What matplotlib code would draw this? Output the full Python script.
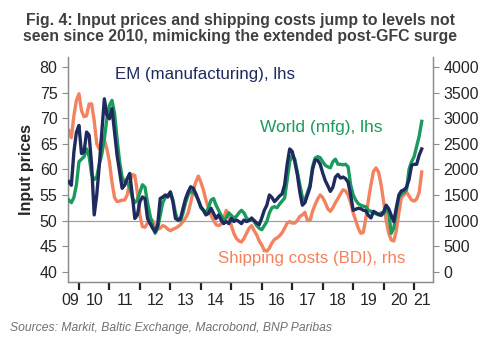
import numpy as np
import matplotlib
matplotlib.use("Agg")
import matplotlib.pyplot as plt

plt.rcParams['font.family'] = ['Liberation Sans', 'DejaVu Sans']

# monthly data, Sep 2009 .. Apr 2021
start_year = 2009
start_month = 9

# EM manufacturing input prices (lhs)
em = [57.6, 56.9, 63.4, 67.3,
      68.6, 63.1, 63.4, 67.3, 66.7, 60.8, 51.1, 55.0, 60.8, 67.3, 73.8, 70.6,
      69.9, 71.9, 67.3, 62.8, 59.5, 56.3, 56.9, 58.2, 59.2, 55.0, 50.4, 51.1,
      53.7, 54.6, 54.3, 50.4, 49.4, 48.5, 47.8, 49.1, 54.3, 54.6, 55.0, 54.6,
      55.6, 53.7, 50.4, 50.1, 50.4, 52.4, 54.3, 55.6, 56.6, 56.3, 55.3, 54.0,
      52.7, 52.0, 51.1, 51.4, 52.4, 51.4, 50.4, 51.1, 50.1, 49.4, 49.8, 49.4,
      50.4, 49.8, 50.1, 49.8, 49.4, 50.1, 49.8, 50.0, 50.5, 50.0, 49.5, 49.2,
      50.5, 52.0, 53.0, 55.0, 54.5, 53.7, 54.2, 54.8, 55.2, 57.0, 61.0, 64.0,
      63.5, 61.5, 59.0, 55.5, 53.0, 53.5, 55.0, 56.5, 60.0, 61.8, 61.8, 61.0,
      59.3, 57.8, 56.8, 55.7, 56.5, 58.5, 59.0, 58.3, 58.5, 58.2, 57.5, 55.0,
      52.0, 52.2, 52.4, 52.3, 52.0, 51.9, 51.0, 50.5, 51.8, 51.5, 51.2, 51.0,
      51.7, 53.0, 52.3, 51.0, 49.8, 52.5, 55.0, 55.8, 56.0, 56.5, 58.0, 60.8,
      61.0, 61.0, 62.8, 64.0]

# World manufacturing input prices (lhs)
world = [54.0, 53.5, 54.5, 57.0,
         61.5, 62.0, 62.5, 64.0, 62.5, 59.0, 58.0, 58.5, 61.0, 63.0, 66.0, 70.0,
         72.5, 73.5, 71.0, 66.0, 61.5, 58.5, 57.5, 57.5, 56.5, 54.5, 53.5, 54.0,
         55.5, 57.0, 56.5, 53.5, 51.0, 49.0, 47.5, 48.5, 51.0, 53.5, 54.5, 55.0,
         55.5, 54.0, 51.5, 50.0, 50.0, 51.5, 53.5, 55.0, 55.8, 55.5, 55.0, 54.0,
         52.5, 52.0, 51.5, 52.5, 54.0, 54.3, 53.0, 52.0, 51.0, 50.0, 50.5, 51.5,
         51.0, 50.5, 50.8, 51.5, 52.0, 51.5, 50.5, 50.0, 50.2, 49.8, 49.0, 48.5,
         48.2, 49.0, 49.8, 51.5, 52.5, 52.7, 52.5, 53.2, 53.8, 54.4, 58.0, 61.5,
         62.8, 62.0, 59.5, 57.0, 54.5, 54.0, 55.5, 57.0, 60.5, 62.2, 62.5, 62.3,
         61.5, 60.8, 60.5, 60.3, 61.5, 62.0, 61.0, 61.0, 60.9, 61.0, 60.5, 57.0,
         55.0, 54.0, 53.3, 53.0, 52.8, 52.7, 52.0, 51.8, 51.5, 51.3, 51.1, 51.5,
         51.3, 52.2, 51.5, 47.5, 48.5, 52.0, 54.5, 55.2, 55.5, 56.0, 60.0, 61.5,
         62.5, 64.5, 66.5, 69.4]

# Baltic Dry Index (rhs)
bdi = [2760, 2620, 3050, 3350,
       3480, 3150, 3030, 3050, 3280, 3280, 2950, 2500, 2400, 2600, 2580, 2400,
       2150, 1750, 1450, 1370, 1380, 1400, 1400, 1500, 1750, 1900, 1880, 1550,
       1100, 880, 870, 950, 1030, 1000, 900, 830, 850, 900, 880, 830,
       800, 830, 850, 880, 920, 980, 1050, 1150, 1350, 1580, 1750, 1870,
       1750, 1600, 1400, 1250, 1100, 1000, 920, 900, 930, 1050, 1200, 1100,
       900, 750, 650, 600, 580, 650, 750, 850, 900, 800, 720, 600,
       520, 420, 400, 460, 560, 630, 660, 700, 760, 850, 950, 980,
       950, 950, 1000, 1080, 1110, 1160, 1000, 1000, 1180, 1310, 1420, 1500,
       1450, 1350, 1230, 1180, 1250, 1350, 1430, 1520, 1600, 1580, 1500, 1350,
       1150, 1000, 850, 750, 770, 1050, 1400, 1700, 1960, 2030, 1950, 1700,
       1370, 1000, 750, 620, 600, 800, 1150, 1450, 1500, 1560, 1480, 1400,
       1380, 1420, 1550, 1950]

n = len(em)
months = np.arange(n) + (start_month - 1)
t = start_year + months / 12.0

navy = "#1f2a5e"
green = "#1b9a5e"
orange = "#f3825f"
grey = "#8c8c8c"

fig = plt.figure(figsize=(5.0, 3.45), dpi=100)
ax = fig.add_axes([0.136, 0.183, 0.730, 0.652])
ax2 = ax.twinx()

ax.axhline(50, color="#a0a0a0", lw=0.9, zorder=1)
ax2.plot(t, bdi, color=orange, lw=2.4, zorder=2)
ax.plot(t, world, color=green, lw=2.4, zorder=3)
ax.plot(t, em, color=navy, lw=2.4, zorder=4)

ax.set_zorder(ax2.get_zorder() + 1)
ax.patch.set_visible(False)

ax.set_xlim(2009.64, 2021.62)
ax.set_ylim(38, 82)
ax2.set_ylim(-200, 4200)
ax.set_yticks(np.arange(40, 81, 5))
ax2.set_yticks(np.arange(0, 4001, 500))

# year boundaries as ticks, labels centred in each year
years = np.arange(2010, 2022)
ax.set_xticks(years)
ax.set_xticklabels([])
label_pos = [2009.72] + [y + 0.5 for y in range(2010, 2021)] + [2021.27]
ax.set_xticks(label_pos, minor=True)
ax.set_xticklabels(["09", "10", "11", "12", "13", "14", "15", "16", "17", "18", "19", "20", "21"],
                   minor=True)
ax.tick_params(axis="x", which="major", direction="out", length=6, width=1.6, color="#222222")
ax.tick_params(axis="x", which="minor", length=0, labelsize=11.5, pad=8, colors="#262626")
ax.tick_params(axis="y", direction="out", length=4, color=grey, labelsize=11.5, labelcolor="#262626")
ax2.tick_params(axis="y", direction="out", length=4, color=grey, labelsize=11.5, labelcolor="#262626")

for a in (ax, ax2):
    a.spines["top"].set_visible(False)
    for s in ("left", "right", "bottom"):
        a.spines[s].set_color(grey)
        a.spines[s].set_linewidth(0.9)

ax.set_ylabel("Input prices", fontsize=11.5, fontweight="bold", color="#262626", labelpad=4)

ax.text(0.13, 0.92, "EM (manufacturing), lhs", transform=ax.transAxes, color=navy, fontsize=12.2,
        va="center", ha="left")
ax.text(0.525, 0.685, "World (mfg), lhs", transform=ax.transAxes, color=green, fontsize=12.5,
        va="center", ha="left")
ax.text(0.41, 0.105, "Shipping costs (BDI), rhs", transform=ax.transAxes, color=orange, fontsize=12.2,
        va="center", ha="left")

fig.text(0.48, 0.918, "Fig. 4: Input prices and shipping costs jump to levels not\n"
         "seen since 2010, mimicking the extended post-GFC surge",
         ha="center", va="center", fontsize=11.4, fontweight="bold", color="#404040", linespacing=1.12)
fig.text(0.02, 0.05, "Sources: Markit, Baltic Exchange, Macrobond, BNP Paribas", fontsize=8.7,
         style="italic", color="#707070", ha="left", va="center")

fig.savefig("out.png", dpi=100)
